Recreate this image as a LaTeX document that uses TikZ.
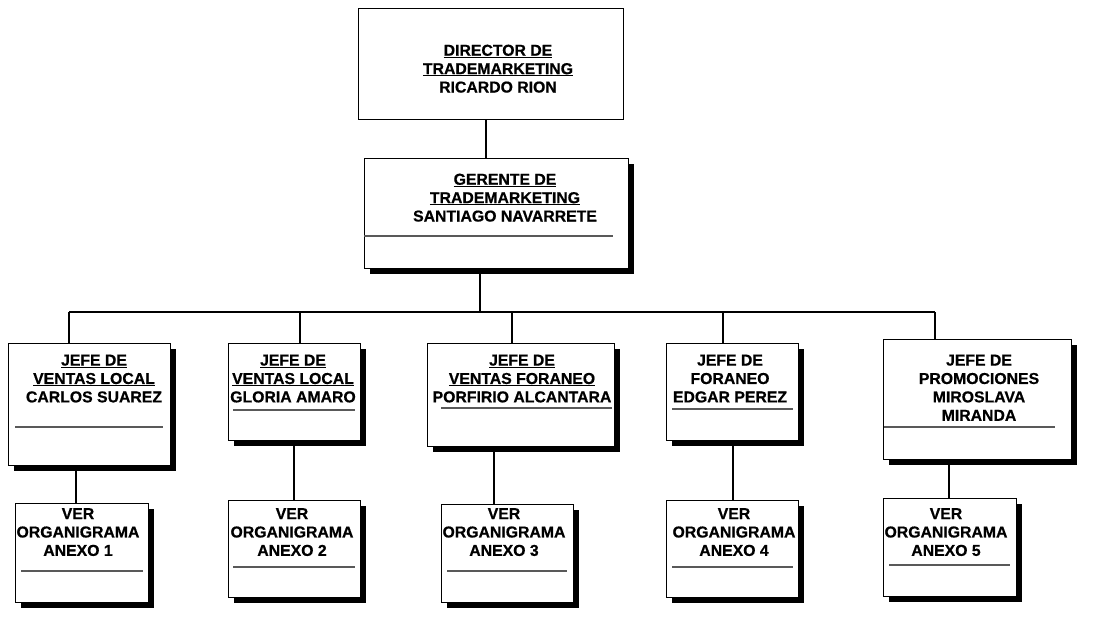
\documentclass[tikz,border=0pt]{standalone}
\usepackage{fontspec}
\setmainfont{Liberation Sans}
\newfontfamily\chartfont[FakeBold=0.6]{Liberation Sans Bold}
\usetikzlibrary{shadows}
\tikzset{
  plainbox/.style={draw=black, fill=white, line width=1.4pt, rectangle, inner sep=0pt, anchor=north west},
  shbox/.style={plainbox, drop shadow={shadow xshift=5pt, shadow yshift=-5pt, opacity=1, fill=black}},
  lbl/.style={inner sep=0pt, anchor=north, align=center, font=\chartfont\fontsize{15.8}{18.4}\selectfont},
  sep/.style={draw=black!65, line width=1.1pt},
  conn/.style={draw=black, line width=2.3pt},
  branch/.style={draw=black, line width=1.5pt}
}
\begin{document}
\begin{tikzpicture}[x=1pt,y=-1pt]
\useasboundingbox (0,0) rectangle (1102,632);
% boxes
\node[plainbox, minimum width=265pt, minimum height=111pt] (dir) at (358,8) {};
\node[shbox, minimum width=264pt, minimum height=110pt] (ger) at (364,158) {};
\node[shbox, minimum width=162pt, minimum height=122pt] (b1) at (8,343) {};
\node[shbox, minimum width=132pt, minimum height=97pt] (b2) at (228,343) {};
\node[shbox, minimum width=187pt, minimum height=103pt] (b3) at (427,343) {};
\node[shbox, minimum width=132pt, minimum height=97pt] (b4) at (666,343) {};
\node[shbox, minimum width=188pt, minimum height=120pt] (b5) at (883,339) {};
\node[shbox, minimum width=133pt, minimum height=99pt] (s1) at (15,503) {};
\node[shbox, minimum width=132pt, minimum height=97pt] (s2) at (228,500) {};
\node[shbox, minimum width=132pt, minimum height=98pt] (s3) at (441,504) {};
\node[shbox, minimum width=132pt, minimum height=97pt] (s4) at (666,500) {};
\node[shbox, minimum width=133pt, minimum height=98pt] (s5) at (883,498) {};
% inner separator lines
\draw[sep] (364,236) -- (613,236);
\draw[sep] (15,427) -- (163,427);
\draw[sep] (233,410) -- (355,410);
\draw[sep] (441,408) -- (612,408);
\draw[sep] (672,409) -- (793,409);
\draw[sep] (884,427) -- (1055,427);
\draw[sep] (21,571) -- (143,571);
\draw[sep] (233,567) -- (355,567);
\draw[sep] (447,571) -- (567,571);
\draw[sep] (672,567) -- (793,567);
\draw[sep] (889,565) -- (1010,565);
% texts
\node[lbl] (dirt) at (498,44.5) {\underline{DIRECTOR DE}\\\underline{TRADEMARKETING}\\RICARDO RION};
\node[lbl] (gert) at (505,173.5) {\underline{GERENTE DE}\\\underline{TRADEMARKETING}\\SANTIAGO NAVARRETE};
\node[lbl] (b1t) at (94,354.5) {\underline{JEFE DE}\\\underline{VENTAS LOCAL}\\CARLOS SUAREZ};
\node[lbl] (b2t) at (293,354.5) {\underline{JEFE DE}\\\underline{VENTAS LOCAL}\\GLORIA AMARO};
\node[lbl] (b3t) at (522,354.5) {\underline{JEFE DE}\\\underline{VENTAS FORANEO}\\PORFIRIO ALCANTARA};
\node[lbl] (b4t) at (730,354.5) {JEFE DE\\FORANEO\\EDGAR PEREZ};
\node[lbl] (b5t) at (979,354.5) {JEFE DE\\PROMOCIONES\\MIROSLAVA\\MIRANDA};
\node[lbl] (s1t) at (78,508) {VER\\ORGANIGRAMA\\ANEXO 1};
\node[lbl] (s2t) at (292,508) {VER\\ORGANIGRAMA\\ANEXO 2};
\node[lbl] (s3t) at (504,508) {VER\\ORGANIGRAMA\\ANEXO 3};
\node[lbl] (s4t) at (734,508) {VER\\ORGANIGRAMA\\ANEXO 4};
\node[lbl] (s5t) at (946,508) {VER\\ORGANIGRAMA\\ANEXO 5};
% connector coordinates
\coordinate (kd) at (486,0);
\coordinate (bus) at (480,312);
\coordinate (c1) at (69,312);
\coordinate (c2) at (300,312);
\coordinate (c3) at (512,312);
\coordinate (c4) at (723,312);
\coordinate (c5) at (935,312);
\coordinate (k1) at (76,0);
\coordinate (k2) at (294,0);
\coordinate (k3) at (494,0);
\coordinate (k4) at (733,0);
\coordinate (k5) at (949,0);
% connectors
\draw[conn] (dir.south -| kd) -- (ger.north -| kd);
\draw[conn] (ger.south -| bus) -- (bus);
\draw[branch] (c1) -- (c5);
\draw[branch] (c1) -- (c1 |- b1.north);
\draw[branch] (c2) -- (c2 |- b2.north);
\draw[branch] (c3) -- (c3 |- b3.north);
\draw[branch] (c4) -- (c4 |- b4.north);
\draw[branch] (c5) -- (c5 |- b5.north);
\draw[conn] (b1.south -| k1) -- (s1.north -| k1);
\draw[conn] (b2.south -| k2) -- (s2.north -| k2);
\draw[conn] (b3.south -| k3) -- (s3.north -| k3);
\draw[conn] (b4.south -| k4) -- (s4.north -| k4);
\draw[conn] (b5.south -| k5) -- (s5.north -| k5);
\end{tikzpicture}
\end{document}
